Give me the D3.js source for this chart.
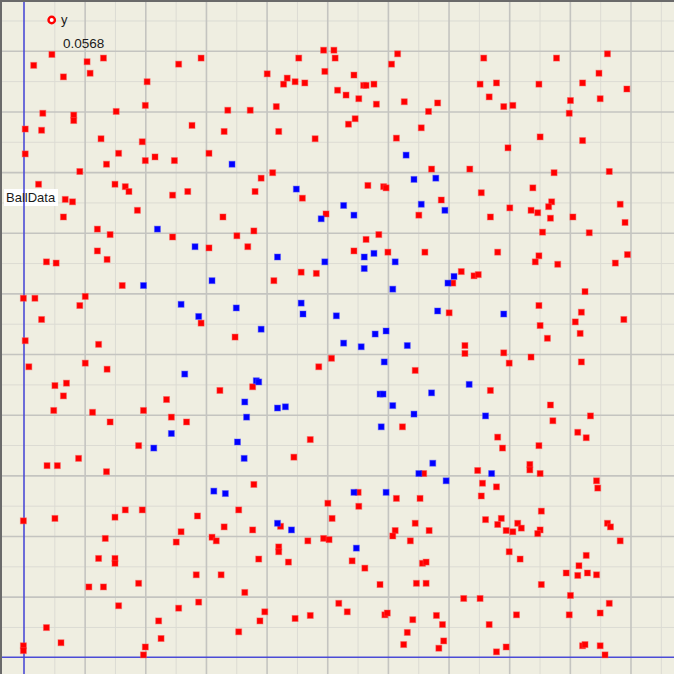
<!DOCTYPE html>
<html>
<head>
<meta charset="utf-8">
<script src="https://cdn.jsdelivr.net/npm/d3@7"></script>
<style>
html,body{margin:0;padding:0;background:#efeee1;}
svg{display:block;}
</style>
</head>
<body>
<div id="chart"></div>
<script>
// ---------------- DATA ----------------
const seriesName = "y";
const axisTitle = "BallData";
const readoutValue = "0.0568";
const majorTicks = [0.1,0.2,0.3,0.4,0.5,0.6,0.7,0.8,0.9,1.0];
const minorTicks = [0.05,0.15,0.25,0.35,0.45,0.55,0.65,0.75,0.85,0.95,1.05];

const redX = [0.046,0.016,0.104,0.131,0.065,0.109,0.203,0.255,0.292,0.200,
0.031,0.082,0.082,0.152,0.002,0.029,0.277,0.330,0.127,0.195,
0.002,0.156,0.200,0.216,0.248,0.305,0.136,0.092,0.024,0.150,
0.167,0.173,0.245,0.270,0.068,0.080,0.187,0.065,0.328,0.494,
0.511,0.513,0.453,0.616,0.606,0.401,0.496,0.434,0.428,0.447,
0.463,0.544,0.517,0.531,0.560,0.564,0.577,0.552,0.581,0.627,
0.682,0.667,0.336,0.373,0.416,0.546,0.535,0.655,0.420,0.480,
0.614,0.672,0.410,0.391,0.381,0.459,0.567,0.593,0.597,0.688,
0.498,0.651,0.758,0.878,0.962,0.948,0.752,0.779,0.849,0.921,
0.994,0.767,0.791,0.806,0.901,0.950,0.899,0.851,0.921,0.798,
0.735,0.874,0.965,0.754,0.839,0.870,0.865,0.983,0.801,0.836,
0.847,0.769,0.868,0.905,0.991,0.121,0.142,0.245,0.305,0.121,
0.137,0.037,0.053,0.162,-0.001,0.018,0.101,0.092,0.292,0.029,
0.002,0.123,0.008,0.101,0.137,0.051,0.070,0.065,0.323,0.235,
0.049,0.113,0.197,0.243,0.268,0.142,0.189,0.351,0.379,0.369,
0.457,0.482,0.412,0.564,0.585,0.544,0.600,0.661,0.348,0.507,
0.486,0.645,0.377,0.624,0.472,0.855,0.932,0.781,0.849,0.843,
0.880,0.975,0.995,0.721,0.742,0.749,0.707,0.925,0.849,0.701,
0.919,0.909,0.989,0.851,0.917,0.863,0.727,0.727,0.791,0.800,
0.836,0.919,0.769,0.868,0.872,0.934,0.781,0.913,0.927,0.789,
0.849,0.038,0.055,0.090,0.136,-0.001,0.051,0.150,0.167,0.195,
0.286,0.259,0.330,0.134,0.251,0.310,0.317,0.123,0.150,0.150,
0.284,0.325,0.107,0.131,0.189,0.288,0.156,0.255,0.222,0.037,
0.226,0.061,-0.001,-0.001,0.200,0.197,0.445,0.659,0.379,0.551,
0.614,0.653,0.501,0.552,0.354,0.508,0.377,0.423,0.645,0.668,
0.612,0.608,0.637,0.468,0.494,0.503,0.420,0.420,0.387,0.436,
0.541,0.562,0.657,0.663,0.587,0.647,0.663,0.364,0.519,0.533,
0.397,0.389,0.447,0.472,0.595,0.599,0.641,0.680,0.690,0.354,
0.632,0.626,0.692,0.684,0.748,0.834,0.834,0.851,0.756,0.779,
0.754,0.944,0.946,0.853,0.761,0.787,0.781,0.814,0.820,0.795,
0.806,0.851,0.847,0.962,0.967,0.983,0.800,0.818,0.927,0.915,
0.894,0.913,0.929,0.944,0.853,0.725,0.752,0.901,0.965,0.812,
0.899,0.950,0.767,0.779,0.795,0.921,0.925,0.950,0.958];

const redY = [0.994,0.976,0.982,0.988,0.957,0.963,0.949,0.978,0.988,0.910,
0.897,0.894,0.885,0.900,0.871,0.869,0.877,0.867,0.855,0.850,
0.830,0.831,0.819,0.825,0.819,0.831,0.813,0.801,0.780,0.780,
0.776,0.768,0.762,0.768,0.755,0.751,0.737,0.726,0.726,1.001,
1.001,0.988,0.988,0.995,0.978,0.962,0.966,0.955,0.945,0.949,
0.947,0.960,0.935,0.927,0.943,0.943,0.945,0.921,0.912,0.916,
0.914,0.900,0.902,0.902,0.908,0.888,0.879,0.873,0.867,0.855,
0.856,0.805,0.799,0.790,0.768,0.757,0.778,0.776,0.774,0.754,
0.731,0.729,0.988,0.988,0.995,0.963,0.945,0.947,0.945,0.947,
0.937,0.924,0.908,0.910,0.918,0.921,0.897,0.858,0.852,0.840,
0.805,0.799,0.801,0.766,0.774,0.751,0.743,0.747,0.741,0.737,
0.733,0.726,0.724,0.726,0.717,0.706,0.697,0.693,0.675,0.670,
0.656,0.652,0.650,0.613,0.592,0.592,0.595,0.580,0.551,0.557,
0.522,0.516,0.479,0.485,0.475,0.448,0.452,0.431,0.440,0.425,
0.407,0.404,0.407,0.396,0.388,0.388,0.349,0.695,0.703,0.677,
0.635,0.633,0.621,0.689,0.697,0.670,0.668,0.668,0.528,0.493,
0.479,0.473,0.446,0.380,0.359,0.701,0.700,0.668,0.662,0.652,
0.648,0.650,0.664,0.636,0.629,0.631,0.617,0.603,0.580,0.568,
0.569,0.553,0.557,0.547,0.534,0.526,0.514,0.501,0.502,0.485,
0.495,0.487,0.440,0.416,0.390,0.398,0.363,0.371,0.362,0.345,
0.349,0.316,0.316,0.328,0.306,0.225,0.229,0.231,0.243,0.243,
0.233,0.207,0.215,0.196,0.190,0.198,0.192,0.163,0.163,0.155,
0.136,0.136,0.116,0.116,0.122,0.091,0.085,0.081,0.060,0.049,
0.031,0.024,0.019,0.011,0.017,0.004,0.330,0.303,0.285,0.272,
0.262,0.262,0.254,0.249,0.243,0.229,0.210,0.216,0.221,0.209,
0.209,0.200,0.192,0.192,0.196,0.194,0.182,0.174,0.162,0.157,
0.159,0.147,0.155,0.157,0.120,0.122,0.122,0.107,0.089,0.075,
0.075,0.060,0.064,0.069,0.070,0.073,0.062,0.069,0.054,0.042,
0.041,0.021,0.027,0.015,0.308,0.318,0.309,0.303,0.287,0.281,
0.266,0.291,0.279,0.241,0.227,0.229,0.219,0.221,0.213,0.209,
0.207,0.210,0.204,0.221,0.215,0.192,0.174,0.162,0.168,0.151,
0.139,0.135,0.139,0.136,0.120,0.097,0.097,0.102,0.089,0.070,
0.070,0.073,0.054,0.009,0.017,0.019,0.021,0.019,0.004];

const blueX = [0.343,0.630,0.449,0.643,0.679,0.655,0.694,0.527,0.544,0.490,
0.220,0.282,0.310,0.197,0.259,0.288,0.265,0.243,0.214,0.418,
0.496,0.561,0.577,0.612,0.561,0.608,0.699,0.709,0.350,0.457,
0.460,0.515,0.682,0.391,0.579,0.597,0.527,0.556,0.632,0.594,
0.383,0.387,0.364,0.418,0.431,0.587,0.592,0.672,0.608,0.367,
0.643,0.589,0.352,0.791,0.734,0.761,0.313,0.332,0.363,0.674,
0.651,0.696,0.544,0.597,0.418,0.441,0.548,0.771];

const blueY = [0.813,0.828,0.772,0.788,0.790,0.747,0.737,0.745,0.729,0.723,
0.706,0.677,0.621,0.613,0.582,0.562,0.467,0.369,0.345,0.660,
0.652,0.660,0.666,0.652,0.641,0.607,0.617,0.628,0.576,0.584,
0.566,0.563,0.571,0.541,0.533,0.538,0.518,0.512,0.514,0.487,
0.456,0.454,0.421,0.411,0.413,0.434,0.434,0.436,0.415,0.396,
0.401,0.380,0.355,0.566,0.450,0.398,0.274,0.270,0.328,0.320,
0.303,0.291,0.272,0.272,0.221,0.210,0.180,0.303];

// ---------------- CHART ----------------
const W = 674, H = 674;
const x = d3.scaleLinear().domain([0, 1]).range([24, 630.5]);
const y = d3.scaleLinear().domain([0, 1]).range([657.3, 50.8]);

const svg = d3.select("#chart").append("svg")
  .attr("width", W).attr("height", H)
  .style("font-family", "'Liberation Sans', Arial, sans-serif");

svg.append("rect").attr("width", W).attr("height", H).attr("fill", "#efeee1");

function grid(vals, color, width) {
  const gx = svg.append("g").attr("transform", `translate(0,${H})`)
    .call(d3.axisBottom(x).tickValues(vals).tickSize(-H).tickFormat(""));
  gx.select(".domain").remove();
  gx.selectAll("line").attr("stroke", color).attr("stroke-width", width);
  const gy = svg.append("g").attr("transform", `translate(${W},0)`)
    .call(d3.axisRight(y).tickValues(vals).tickSize(-W).tickFormat(""));
  gy.select(".domain").remove();
  gy.selectAll("line").attr("stroke", color).attr("stroke-width", width);
}
grid(minorTicks, "#dcdbd3", 1);
grid(majorTicks, "#c4c4c0", 1.6);

// label background
svg.append("rect").attr("x", 4).attr("y", 189).attr("width", 54).attr("height", 17).attr("fill", "#ffffff");

// zero axes
svg.append("line").attr("x1", x(0)).attr("x2", x(0)).attr("y1", 0).attr("y2", H)
  .attr("stroke", "#4b4bd6").attr("stroke-width", 1.6);
svg.append("line").attr("x1", 0).attr("x2", W).attr("y1", y(0)).attr("y2", y(0))
  .attr("stroke", "#4b4bd6").attr("stroke-width", 1.6);

// panel border (top, left)
svg.append("line").attr("x1", 0).attr("x2", W).attr("y1", 1).attr("y2", 1).attr("stroke", "#6a6a6a").attr("stroke-width", 2);
svg.append("line").attr("x1", 1).attr("x2", 1).attr("y1", 0).attr("y2", H).attr("stroke", "#6a6a6a").attr("stroke-width", 2);

const S = 6;
svg.append("g").selectAll("rect").data(d3.range(redX.length)).join("rect")
  .attr("x", i => x(redX[i]) - S/2).attr("y", i => y(redY[i]) - S/2)
  .attr("width", S).attr("height", S)
  .attr("fill", "#ff0000").attr("stroke", "rgba(255,80,80,0.45)").attr("stroke-width", 1);

svg.append("g").selectAll("rect").data(d3.range(blueX.length)).join("rect")
  .attr("x", i => x(blueX[i]) - S/2).attr("y", i => y(blueY[i]) - S/2)
  .attr("width", S).attr("height", S)
  .attr("fill", "#0000ff").attr("stroke", "rgba(80,80,255,0.45)").attr("stroke-width", 1);

// texts
svg.append("text").attr("x", 6).attr("y", 202).attr("font-size", 13).attr("fill", "#1a1a1a").text(axisTitle);

svg.append("circle").attr("cx", 51.7).attr("cy", 20).attr("r", 3.2)
  .attr("fill", "#ffffff").attr("stroke", "#ff0000").attr("stroke-width", 2.4);
svg.append("text").attr("x", 61).attr("y", 24).attr("font-size", 13).attr("fill", "#1a1a1a").text(seriesName);
svg.append("text").attr("x", 63).attr("y", 47.5).attr("font-size", 13.5).attr("fill", "#1a1a1a").text(readoutValue);
</script>
</body>
</html>
